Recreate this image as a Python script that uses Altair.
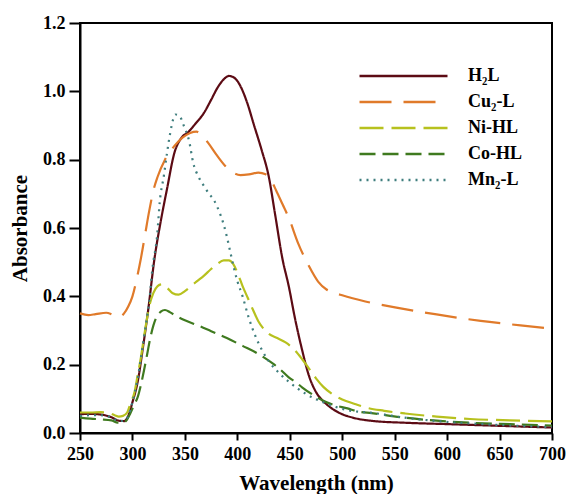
import altair as alt
import pandas as pd

series_names = ["H₂L", "Cu₂-L", "Ni-HL", "Co-HL", "Mn₂-L"]
colors = ["#5c0b14", "#e07a2a", "#b7c11e", "#3f7a1f", "#3f7e7e"]
dashes = [[1, 0], [32, 12], [24, 8], [16, 7], [2, 5]]

x_ticks = [250, 300, 350, 400, 450, 500, 550, 600, 650, 700]
y_ticks = [0.0, 0.2, 0.4, 0.6, 0.8, 1.0, 1.2]

h2l_wl = [250, 260, 270, 280, 287, 292, 296, 300, 305, 310, 315, 321, 327, 333, 340, 347, 353,
          360, 368, 375, 381, 387, 392, 397, 403, 409, 416, 423, 430, 436, 443, 449, 455, 462,
          468, 475, 483, 491, 500, 510, 530, 560, 600, 650, 700]
h2l_abs = [0.055, 0.056, 0.054, 0.046, 0.036, 0.035, 0.05, 0.09, 0.15, 0.25, 0.36, 0.51, 0.62,
           0.715, 0.82, 0.865, 0.88, 0.905, 0.936, 0.975, 1.01, 1.035, 1.045, 1.04, 1.015, 0.97,
           0.9, 0.83, 0.75, 0.64, 0.51, 0.43, 0.335, 0.24, 0.17, 0.12, 0.09, 0.07, 0.055, 0.045,
           0.035, 0.03, 0.026, 0.021, 0.016]

cu_wl = [250, 258, 265, 275, 282, 288, 292, 296, 300, 304, 308, 312, 316, 320, 324, 331, 340,
         348, 355, 361, 366, 372, 380, 389, 396, 403, 411, 420, 427, 432, 437, 443, 449, 458,
         468, 477, 485, 491, 500, 522, 553, 590, 632, 670, 700]
cu_abs = [0.35, 0.345, 0.348, 0.352, 0.345, 0.34, 0.35, 0.37, 0.40, 0.45, 0.51, 0.58, 0.65,
          0.71, 0.75, 0.80, 0.84, 0.865, 0.878, 0.882, 0.872, 0.85, 0.815, 0.78, 0.762, 0.755,
          0.757, 0.762, 0.757, 0.74, 0.71, 0.67, 0.63, 0.555, 0.49, 0.443, 0.42, 0.412, 0.403,
          0.385, 0.366, 0.347, 0.328, 0.315, 0.305]

ni_wl = [250, 260, 270, 278, 283, 287, 291, 295, 298, 302, 305, 308, 312, 316, 320, 324, 328,
         333, 338, 344, 350, 356, 361, 368, 375, 381, 387, 392, 396, 400, 405, 410, 415, 420,
         425, 430, 438, 446, 454, 462, 468, 475, 482, 490, 500, 512, 522, 540, 560, 590, 622,
         660, 700]
ni_abs = [0.06, 0.06, 0.061, 0.058, 0.052, 0.048, 0.05, 0.06, 0.085, 0.12, 0.17, 0.22, 0.30,
          0.37, 0.41, 0.43, 0.435, 0.425, 0.41, 0.405, 0.415, 0.43, 0.443, 0.46, 0.48, 0.495,
          0.505, 0.505, 0.495, 0.47, 0.43, 0.395, 0.36, 0.327, 0.305, 0.29, 0.278, 0.265, 0.245,
          0.215, 0.19, 0.16, 0.135, 0.115, 0.098, 0.085, 0.075, 0.065, 0.057, 0.048, 0.041,
          0.037, 0.034]

co_wl = [250, 260, 270, 280, 286, 291, 295, 298, 302, 305, 308, 311, 314, 317, 320, 323, 327,
         331, 336, 342, 350, 358, 364, 375, 390, 405, 418, 426, 434, 442, 449, 456, 462, 472,
         481, 492, 505, 515, 528, 559, 590, 622, 660, 700]
co_abs = [0.045, 0.042, 0.04, 0.037, 0.03, 0.03, 0.04, 0.058, 0.085, 0.105, 0.14, 0.183, 0.23,
          0.278, 0.315, 0.34, 0.355, 0.36, 0.353, 0.342, 0.33, 0.32, 0.313, 0.298, 0.278, 0.255,
          0.235, 0.22, 0.203, 0.183, 0.163, 0.148, 0.133, 0.112, 0.096, 0.082, 0.072, 0.063,
          0.058, 0.045, 0.036, 0.03, 0.026, 0.022]

mn_wl = [250, 260, 270, 280, 287, 292, 296, 300, 305, 310, 313, 316, 319, 323.6, 326, 330, 333,
         336, 339, 341, 345, 349, 354, 358, 363, 368, 373, 377, 383, 387, 390, 394, 397, 400,
         405, 411, 418, 424, 430, 440, 449, 465, 484, 505, 531, 559, 590, 622, 660, 700]
mn_abs = [0.05, 0.052, 0.052, 0.045, 0.035, 0.036, 0.05, 0.09, 0.16, 0.26, 0.32, 0.385, 0.48,
          0.58, 0.675, 0.754, 0.82, 0.878, 0.92, 0.932, 0.927, 0.899, 0.855, 0.79, 0.75, 0.724,
          0.70, 0.685, 0.646, 0.61, 0.575, 0.52, 0.48, 0.445, 0.40, 0.336, 0.278, 0.24, 0.21,
          0.175, 0.15, 0.115, 0.087, 0.067, 0.058, 0.045, 0.035, 0.028, 0.022, 0.017]

rows = []
for name, wls, vals in zip(series_names,
                           [h2l_wl, cu_wl, ni_wl, co_wl, mn_wl],
                           [h2l_abs, cu_abs, ni_abs, co_abs, mn_abs]):
    for w, a in zip(wls, vals):
        rows.append({"series": name, "wl": w, "abs": a})
df = pd.DataFrame(rows)

FONT = "Liberation Serif"

legend = alt.Legend(
    title=None, orient="none", legendX=278, legendY=40,
    symbolType="stroke", symbolSize=7744, symbolStrokeWidth=2.5,
    clipHeight=26, rowPadding=0, padding=0,
    labelFont=FONT, labelFontSize=18, labelFontWeight="bold", labelColor="black",
    labelOffset=19,
)

chart = alt.Chart(df).mark_line(strokeWidth=2.2, interpolate="monotone").encode(
    x=alt.X("wl:Q", scale=alt.Scale(domain=[250, 700], nice=False, zero=False),
            axis=alt.Axis(title="Wavelength (nm)", values=x_ticks, format="d",
                          tickSize=7, labelPadding=5, titlePadding=9, labelFlush=False)),
    y=alt.Y("abs:Q", scale=alt.Scale(domain=[0, 1.2], nice=False),
            axis=alt.Axis(title="Absorbance", values=y_ticks, format=".1f",
                          tickSize=11, labelPadding=4, titlePadding=12, labelFlush=False)),
    color=alt.Color("series:N", scale=alt.Scale(domain=series_names, range=colors),
                    legend=legend, sort=series_names),
    strokeDash=alt.StrokeDash("series:N", scale=alt.Scale(domain=series_names, range=dashes),
                              legend=legend, sort=series_names),
).properties(
    width=472, height=410,
    autosize=alt.AutoSizeParams(type="none"),
    padding={"left": 72, "top": 15, "right": 14, "bottom": 61},
).configure_view(
    stroke="black", strokeWidth=2
).configure_axis(
    grid=False, domainColor="black", domainWidth=2, tickColor="black", tickWidth=2,
    labelFont=FONT, labelFontSize=18, labelFontWeight="bold",
    labelColor="black", titleFont=FONT, titleFontSize=21, titleFontWeight="bold",
    titleColor="black",
)

chart.save("out.html", embed_options={"renderer": "svg", "actions": False})
